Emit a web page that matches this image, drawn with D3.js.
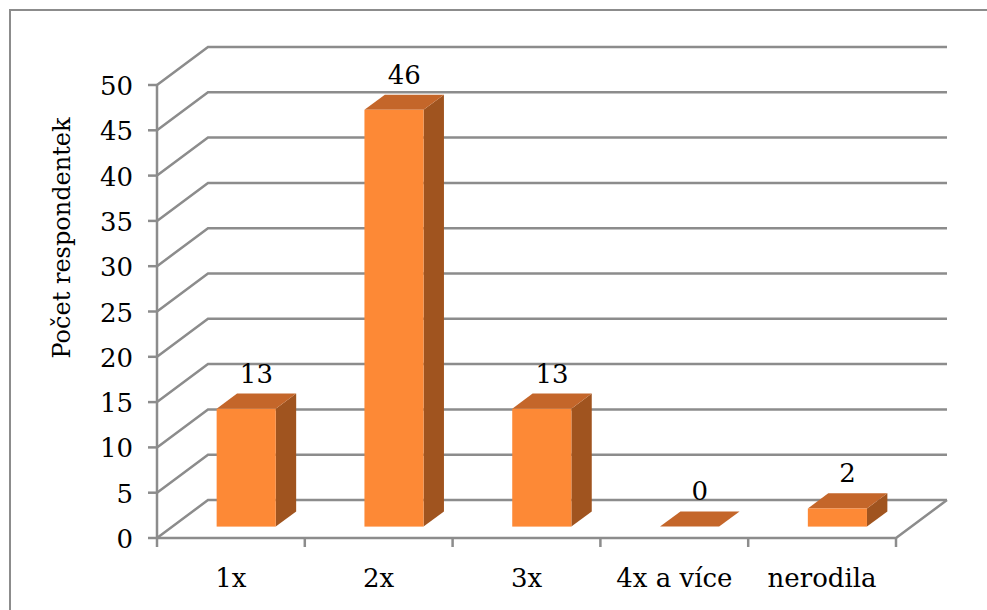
<!DOCTYPE html>
<html>
<head>
<meta charset="utf-8">
<script src="https://cdn.jsdelivr.net/npm/d3@7"></script>
<style>
  body { margin: 0; background: #fff; }
</style>
</head>
<body>
<svg id="chart" width="987" height="610"></svg>
<script>
// chart data
const categories = ['1x', '2x', '3x', '4x a více', 'nerodila']
const values = [13, 46, 13, 0, 2]
const yTicks = [0, 5, 10, 15, 20, 25, 30, 35, 40, 45, 50]
const yTitle = 'Počet respondentek'

const svg = d3.select('#chart')
const gridColor = '#8c8c8c'
const font = "'DejaVu Serif', serif"
const fontSize = 26

// front plane + depth offset of the 3D box
const left = 157, right = 896
const depth = { x: 51, y: -38 }

const xScale = d3.scaleBand().domain(categories).range([left, right]).padding(0)
const yScale = d3.scaleLinear().domain([0, 50]).range([538, 85])

// outer frame
svg.append('rect')
  .attr('x', 10).attr('y', 10)
  .attr('width', 990).attr('height', 620)
  .attr('fill', 'none')
  .attr('stroke', gridColor)
  .attr('stroke-width', 2)

const g = svg.append('g')

// gridlines: slanted on the left wall then flat on the back wall
g.selectAll('.grid')
  .data(yTicks)
  .enter()
  .append('polyline')
  .attr('class', 'grid')
  .attr('points', (d) => {
    const y = yScale(d)
    return [[left, y], [left + depth.x, y + depth.y], [right + depth.x, y + depth.y]].join(' ')
  })
  .attr('fill', 'none')
  .attr('stroke', gridColor)
  .attr('stroke-width', 2.5)

// floor front edge + right side edge
g.append('polyline')
  .attr('points', [[left, yScale(0)], [right, yScale(0)], [right + depth.x, yScale(0) + depth.y]].join(' '))
  .attr('fill', 'none')
  .attr('stroke', gridColor)
  .attr('stroke-width', 2.5)

// y axis line + ticks
g.append('line')
  .attr('x1', left).attr('x2', left)
  .attr('y1', yScale(50)).attr('y2', yScale(0))
  .attr('stroke', gridColor).attr('stroke-width', 2.5)

g.selectAll('.ytick')
  .data(yTicks)
  .enter()
  .append('line')
  .attr('x1', left - 9).attr('x2', left)
  .attr('y1', (d) => yScale(d)).attr('y2', (d) => yScale(d))
  .attr('stroke', gridColor).attr('stroke-width', 2.5)

g.selectAll('.ylabel')
  .data(yTicks)
  .enter()
  .append('text')
  .attr('x', 133)
  .attr('y', (d) => yScale(d) + 10)
  .attr('text-anchor', 'end')
  .attr('font-family', font)
  .attr('font-size', fontSize)
  .text((d) => d)

// x ticks at band edges
const xEdges = categories.map((c) => xScale(c)).concat([right])
g.selectAll('.xtick')
  .data(xEdges)
  .enter()
  .append('line')
  .attr('x1', (d) => d).attr('x2', (d) => d)
  .attr('y1', yScale(0)).attr('y2', yScale(0) + 9)
  .attr('stroke', gridColor).attr('stroke-width', 2.5)

g.selectAll('.xlabel')
  .data(categories)
  .enter()
  .append('text')
  .attr('x', (d) => xScale(d) + xScale.bandwidth() / 2)
  .attr('y', 587)
  .attr('text-anchor', 'middle')
  .attr('font-family', font)
  .attr('font-size', fontSize)
  .text((d) => d)

// axis title
svg.append('text')
  .attr('transform', 'translate(70,238) rotate(-90)')
  .attr('text-anchor', 'middle')
  .attr('font-family', font)
  .attr('font-size', 24)
  .text(yTitle)

// 3D bars
const barW = xScale.bandwidth() * 0.4
const t0 = 0.3, bd = 0.4
const bars = g.selectAll('.bar')
  .data(categories.map((c, i) => ({ cat: c, value: values[i] })))
  .enter()
  .append('g')
  .attr('class', 'bar')

bars.each(function (d) {
  const el = d3.select(this)
  const x0 = xScale(d.cat) + (xScale.bandwidth() - barW) / 2 + depth.x * t0
  const x1 = x0 + barW
  const yb = yScale(0) + depth.y * t0
  const yt = yb - (yScale(0) - yScale(d.value))
  const dx = depth.x * bd, dy = depth.y * bd
  // side
  if (d.value > 0) {
    el.append('polygon')
      .attr('points', [[x1, yt], [x1 + dx, yt + dy], [x1 + dx, yb + dy], [x1, yb]].join(' '))
      .attr('fill', '#a0541f')
  }
  // top
  el.append('polygon')
    .attr('points', [[x0, yt], [x0 + dx, yt + dy], [x1 + dx, yt + dy], [x1, yt]].join(' '))
    .attr('fill', '#c4662a')
  // front
  if (d.value > 0) {
    el.append('rect')
      .attr('x', x0).attr('y', yt)
      .attr('width', barW).attr('height', yb - yt)
      .attr('fill', '#fd8936')
  }
  // value label
  el.append('text')
    .attr('x', (x0 + x1) / 2 + dx / 2)
    .attr('y', yt + dy - 11)
    .attr('text-anchor', 'middle')
    .attr('font-family', font)
    .attr('font-size', fontSize)
    .text(d.value)
})
</script>
</body>
</html>
